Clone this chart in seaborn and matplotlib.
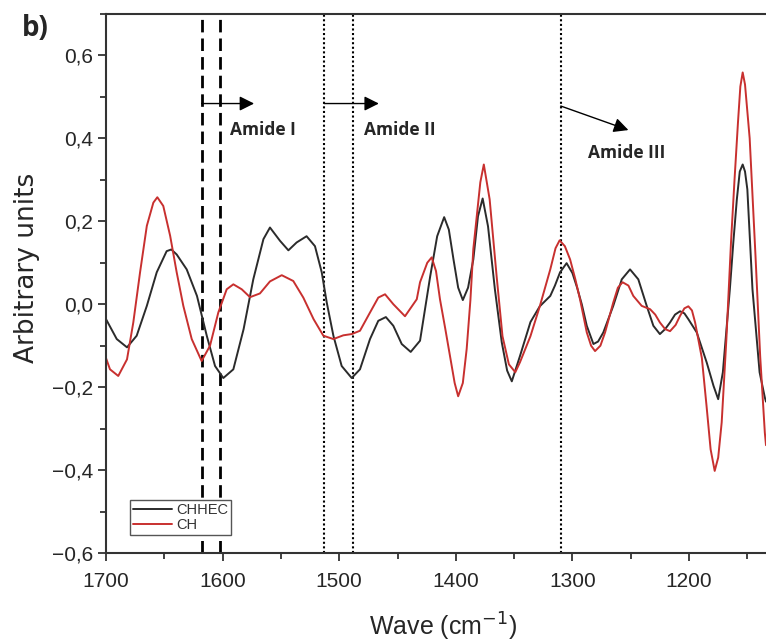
import matplotlib
matplotlib.use("Agg")
import matplotlib.pyplot as plt
import seaborn as sns
import pandas as pd
from matplotlib.ticker import MultipleLocator, FuncFormatter

# ---- data ----
chhec_x = [1700, 1690.8, 1682, 1673.7, 1665, 1656.5, 1648, 1644, 1639.4, 1630.8, 1622, 1613.6, 1606.5, 1599.4,
           1590.8, 1582, 1573.7, 1565, 1559.4, 1550.8, 1543.6, 1536.5, 1528, 1520.8, 1515, 1510.7, 1505,
           1497.9, 1489.3, 1482.2, 1473.6, 1466.5, 1460, 1453.6, 1446.4, 1438.7, 1430.7, 1422, 1416, 1410,
           1406, 1402, 1398, 1394, 1389.5, 1385, 1381, 1377, 1372.4, 1366.5, 1360.6, 1356, 1352, 1345, 1336,
           1328, 1319, 1315, 1310.6, 1305, 1300, 1296, 1292, 1287.7, 1282, 1278, 1273.5, 1265, 1257.7, 1250.6,
           1243.5, 1236.3, 1230.6, 1225, 1220.5, 1216.3, 1212, 1207.7, 1204, 1200.6, 1193.4, 1184.8, 1179, 1175,
           1171, 1165, 1162, 1159, 1156.5, 1154, 1152, 1150, 1145.6, 1139.5, 1135, 1134]
chhec_y = [-0.036, -0.084, -0.104, -0.076, -0.004, 0.077, 0.128, 0.132, 0.12, 0.084, 0.02, -0.076, -0.149, -0.178,
           -0.157, -0.06, 0.06, 0.157, 0.185, 0.153, 0.13, 0.149, 0.164, 0.14, 0.077, 0.004, -0.076,
           -0.149, -0.178, -0.157, -0.084, -0.04, -0.031, -0.052, -0.096, -0.115, -0.088, 0.067, 0.164, 0.21,
           0.18, 0.108, 0.04, 0.01, 0.04, 0.108, 0.212, 0.255, 0.188, 0.036, -0.092, -0.16, -0.186, -0.125, -0.043,
           -0.005, 0.02, 0.045, 0.077, 0.099, 0.075, 0.04, 0.0, -0.052, -0.096, -0.09, -0.068, -0.004, 0.06, 0.084,
           0.06, -0.004, -0.052, -0.072, -0.06, -0.044, -0.025, -0.017, -0.022, -0.036, -0.068, -0.141, -0.197, -0.229,
           -0.164, 0.036, 0.15, 0.253, 0.32, 0.337, 0.32, 0.277, 0.036, -0.164, -0.225, -0.235]

ch_x = [1700, 1696.6, 1689.5, 1682, 1676.6, 1670.8, 1665, 1659.4, 1656, 1650.9, 1645, 1639.4, 1633.7, 1626.5,
        1618, 1610.8, 1603.7, 1596.5, 1590.8, 1583.6, 1576.5, 1568, 1559.4, 1549.3, 1539.4, 1530.8, 1522,
        1513.6, 1505, 1496.5, 1489.3, 1482.2, 1473.6, 1466.5, 1460.7, 1453.6, 1443.6, 1433.5, 1430.7, 1424.5,
        1420.7, 1417, 1413.6, 1409, 1405, 1401, 1398, 1394, 1390.7, 1387.5, 1385, 1379, 1376, 1371, 1365, 1360,
        1354.5, 1349, 1345, 1336, 1328, 1319, 1314.5, 1311, 1306.5, 1302, 1297.5, 1293.5, 1287.7, 1284, 1280.6,
        1276, 1272, 1265, 1261, 1257, 1252, 1247.8, 1240.6, 1233.4, 1229, 1225, 1220.5, 1216.3, 1211.5, 1207.7,
        1204, 1200.6, 1197.5, 1194.8, 1189, 1185, 1181.5, 1178, 1175, 1172, 1168, 1164, 1161, 1158, 1156, 1154,
        1152, 1148, 1143, 1139, 1135, 1134]
ch_y = [-0.13, -0.157, -0.173, -0.133, -0.044, 0.077, 0.189, 0.245, 0.258, 0.237, 0.165, 0.077, -0.004, -0.084,
        -0.137, -0.10, -0.02, 0.036, 0.048, 0.036, 0.017, 0.026, 0.055, 0.07, 0.056, 0.016, -0.036,
        -0.076, -0.084, -0.075, -0.072, -0.064, -0.02, 0.016, 0.024, 0.0, -0.029, 0.012, 0.053, 0.10,
        0.113, 0.08, 0.012, -0.06, -0.125, -0.19, -0.222, -0.19, -0.108, 0.01, 0.133, 0.294, 0.337, 0.253, 0.067, -0.077,
        -0.145, -0.164, -0.14, -0.077, -0.005, 0.084, 0.135, 0.154, 0.14, 0.108, 0.06, 0.012, -0.068, -0.10, -0.113,
        -0.10, -0.068, 0.004, 0.04, 0.053, 0.045, 0.02, -0.004, -0.012, -0.025, -0.044, -0.06, -0.065, -0.05, -0.028,
        -0.01, -0.005, -0.015, -0.044, -0.13, -0.245, -0.35, -0.402, -0.37, -0.285, -0.085, 0.15, 0.30, 0.44, 0.525, 0.559,
        0.53, 0.40, 0.116, -0.125, -0.31, -0.34]

series_names = ["CHHEC", "CH"]
dashed_lines = [1618, 1602]
dotted_lines = [1513, 1488, 1310]
amide_labels = ["Amide I", "Amide II", "Amide III"]
x_ticks = [1700, 1600, 1500, 1400, 1300, 1200]
y_ticks = [-0.6, -0.4, -0.2, 0.0, 0.2, 0.4, 0.6]

df = pd.concat([
    pd.DataFrame({"wave": chhec_x, "value": chhec_y, "sample": series_names[0]}),
    pd.DataFrame({"wave": ch_x, "value": ch_y, "sample": series_names[1]}),
])

sns.set_style("ticks")
plt.rcParams["font.family"] = ["Liberation Sans", "DejaVu Sans"]

fig = plt.figure(figsize=(7.66, 6.44), dpi=100)
ax = fig.add_axes([0.1384, 0.1413, 0.8616, 0.837])

sns.lineplot(data=df, x="wave", y="value", hue="sample", hue_order=series_names,
             palette=["#2b2b2b", "#c8302f"], linewidth=1.4, estimator=None, sort=True, ax=ax)
for ln in ax.get_lines():
    ln.set_solid_joinstyle("round")

for xv in dashed_lines:
    ax.axvline(xv, color="black", lw=2.0, ls=(0, (4.5, 2.2)), zorder=1)
for xv in dotted_lines:
    ax.axvline(xv, color="black", lw=1.5, ls=(0, (1, 1.2)), zorder=1)

ap = dict(arrowstyle="-|>", color="black", lw=1.0, mutation_scale=22, shrinkA=0, shrinkB=0)
ax.annotate("", xy=(1573, 0.484), xytext=(1618, 0.484), arrowprops=ap)
ax.annotate("", xy=(1466, 0.484), xytext=(1513, 0.484), arrowprops=ap)
ax.annotate("", xy=(1252, 0.42), xytext=(1310, 0.478), arrowprops=ap)

tkw = dict(fontsize=12.5, fontweight="bold", family=["Open Sans", "DejaVu Sans"], va="center", ha="left")
ax.text(1594, 0.42, amide_labels[0], **tkw)
ax.text(1479, 0.42, amide_labels[1], **tkw)
ax.text(1287, 0.364, amide_labels[2], **tkw)

ax.set_xlim(1700, 1134)
ax.set_ylim(-0.6, 0.70)
ax.set_xticks(x_ticks)
ax.set_yticks(y_ticks)
ax.xaxis.set_minor_locator(MultipleLocator(50))
ax.yaxis.set_minor_locator(MultipleLocator(0.1))
ax.yaxis.set_major_formatter(FuncFormatter(lambda v, p: f"{v:.1f}".replace(".", ",").replace("-", "\u2212")))
ax.tick_params(axis="both", which="major", labelsize=15, length=6, width=1.3, color="#333333", direction="out")
ax.tick_params(axis="both", which="minor", length=4, width=1.3, color="#333333", direction="out")
ax.tick_params(axis="x", pad=8)

for s in ["left", "bottom", "top"]:
    ax.spines[s].set_linewidth(1.5)
    ax.spines[s].set_color("#333333")
ax.spines["right"].set_visible(False)

ax.set_xlabel("Wave (cm$^{-1}$)", fontsize=18)
ax.xaxis.set_label_coords(0.51, -0.108)
ax.set_ylabel("Arbitrary units", fontsize=19, family=["DejaVu Sans"])
ax.yaxis.set_label_coords(-0.100, 0.529)

handles, labels = ax.get_legend_handles_labels()
leg = ax.legend(handles, labels, loc="lower left", bbox_to_anchor=(0.036, 0.033), fontsize=10.5,
                frameon=True, fancybox=False, edgecolor="#555555", framealpha=1,
                handlelength=2.7, handletextpad=0.3, borderpad=0.2, labelspacing=0.1, borderaxespad=0)
leg.get_frame().set_linewidth(1.0)
for t in leg.get_texts():
    t.set_color("#333333")

fig.text(0.028, 0.955, "b)", fontsize=20, fontweight="bold", ha="left", va="center",
         family=["Open Sans", "DejaVu Sans"])

fig.savefig("out.png", dpi=100)
